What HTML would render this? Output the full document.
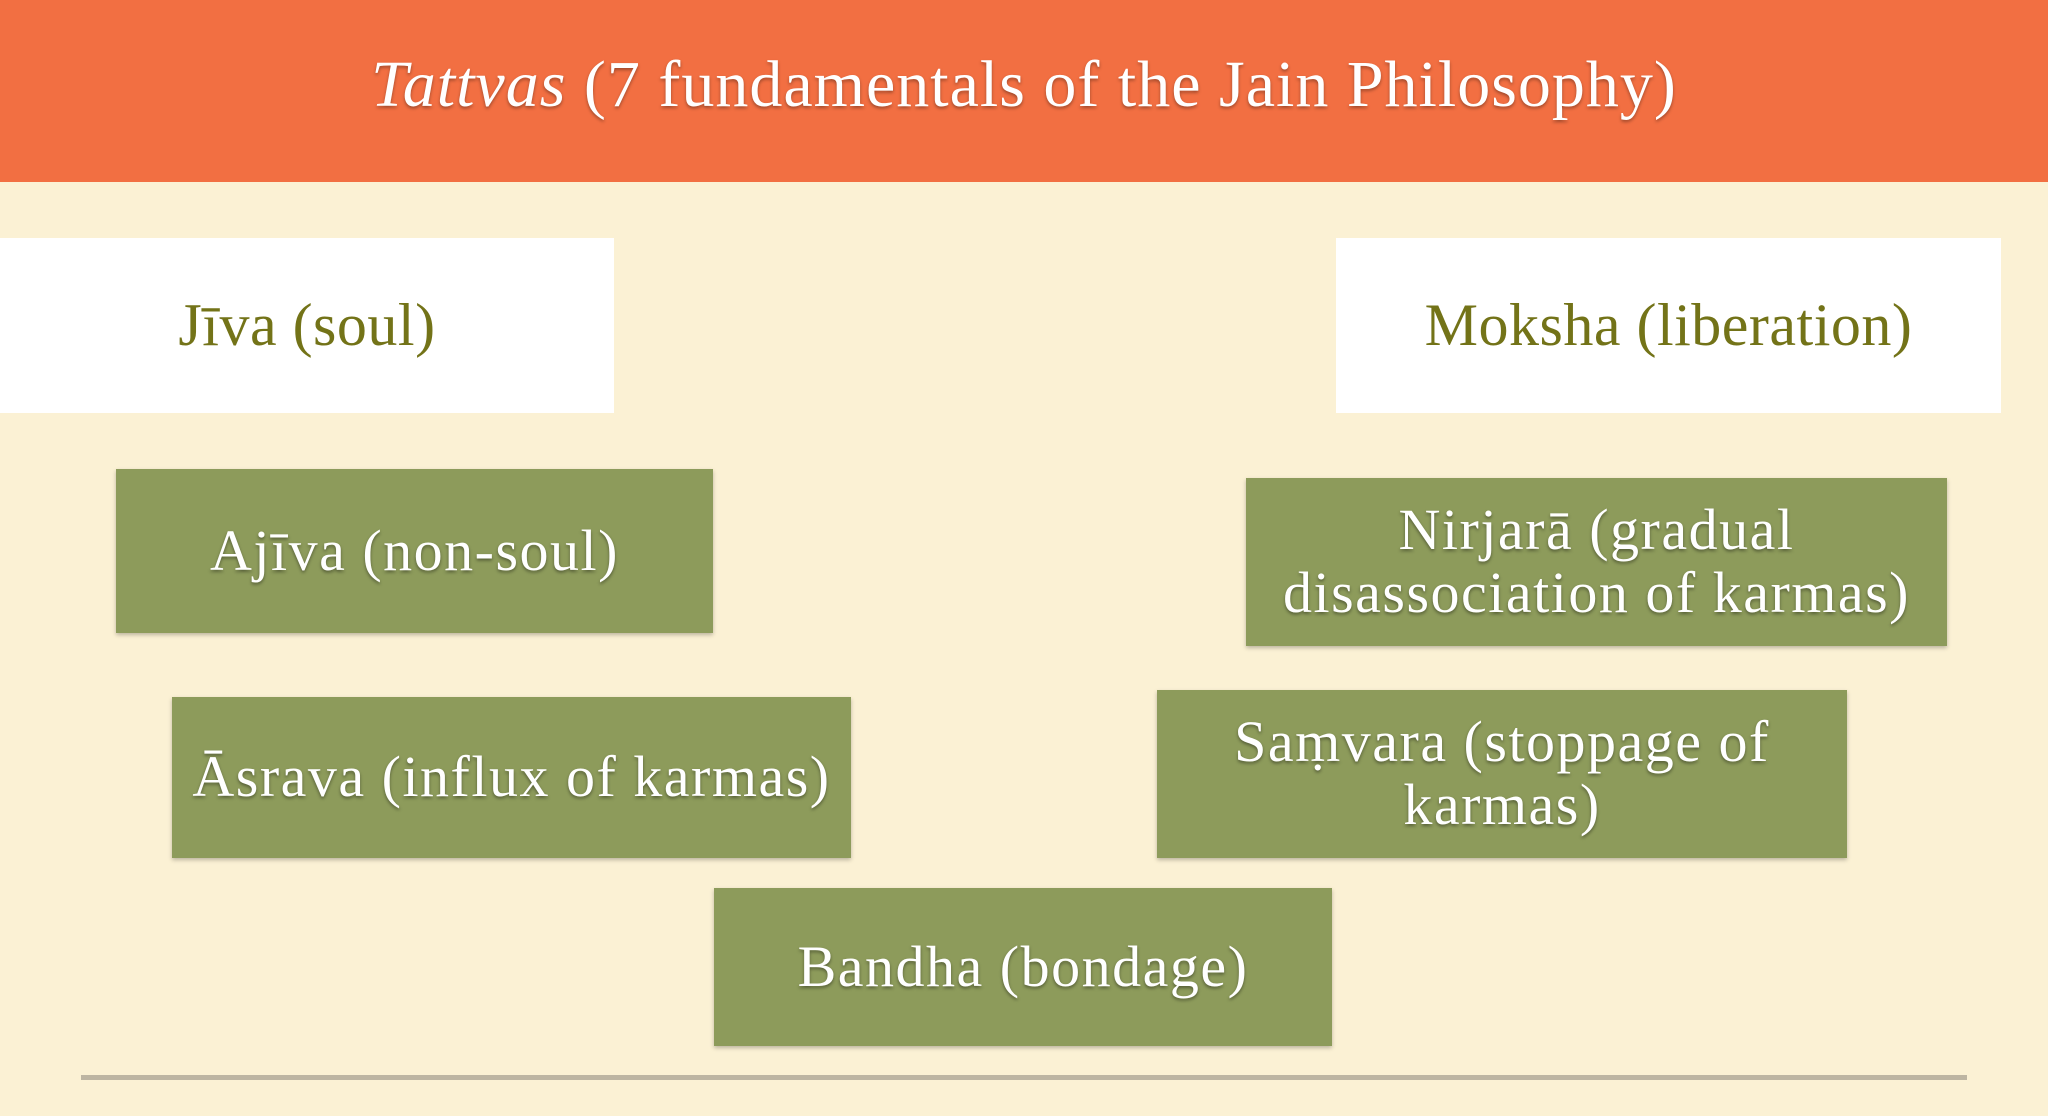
<!DOCTYPE html>
<html><head><meta charset="utf-8"><style>
html,body{margin:0;padding:0}
body{width:2048px;height:1116px;position:relative;overflow:hidden;background:#fbf1d4;font-family:"Liberation Serif",serif}
.hdr{position:absolute;left:0;top:0;width:2048px;height:182px;background:#f26f42;color:#fff;font-size:66px;letter-spacing:1px;display:flex;align-items:center;justify-content:center;text-shadow:0 2px 3px rgba(0,0,0,.35)}
.hdr span{position:relative;top:-6px}
.b{position:absolute;display:flex;align-items:center;justify-content:center;text-align:center;box-sizing:border-box;line-height:1.08;letter-spacing:1.5px}
.w{background:#fff;color:#737318;font-size:60px;letter-spacing:0.5px}
.g{background:#8d9b5b;color:#fff;font-size:58px;text-shadow:0 2px 3px rgba(0,0,0,.4);box-shadow:0 2px 4px rgba(0,0,0,.25)}
.line{position:absolute;left:81px;top:1075px;width:1886px;height:5px;background:#bdb5a2}
</style></head><body>
<div class="hdr"><span><i>Tattvas</i> (7 fundamentals of the Jain Philosophy)</span></div>
<div class="b w" style="left:0;top:238px;width:614px;height:175px">Jīva (soul)</div>
<div class="b w" style="left:1336px;top:238px;width:665px;height:175px">Moksha (liberation)</div>
<div class="b g" style="left:116px;top:469px;width:597px;height:164px">Ajīva (non-soul)</div>
<div class="b g" style="left:1246px;top:478px;width:701px;height:168px">Nirjarā (gradual<br>disassociation of karmas)</div>
<div class="b g" style="left:172px;top:697px;width:679px;height:161px">Āsrava (influx of karmas)</div>
<div class="b g" style="left:1157px;top:690px;width:690px;height:168px">Saṃvara (stoppage of<br>karmas)</div>
<div class="b g" style="left:714px;top:888px;width:618px;height:158px">Bandha (bondage)</div>
<div class="line"></div>
</body></html>
